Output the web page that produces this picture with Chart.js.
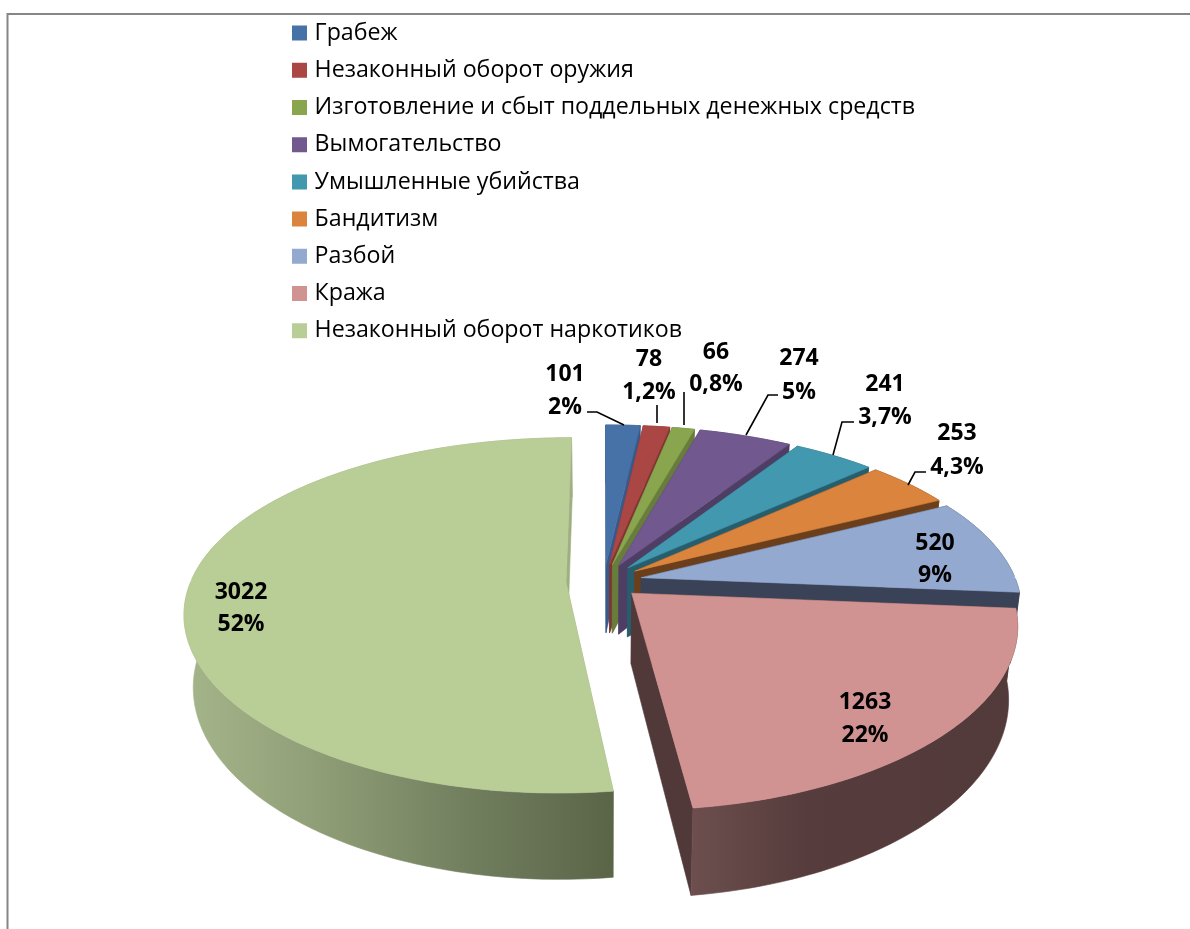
<!DOCTYPE html>
<html lang="ru">
<head>
<meta charset="utf-8">
<title>Pie</title>
<script src="https://cdn.jsdelivr.net/npm/chart.js@4"></script>
<style>
html,body{margin:0;padding:0;background:#fff}
canvas{display:block}
</style>
</head>
<body>
<canvas id="c" width="1190" height="929"></canvas>
<script>
const categories = ['Грабеж','Незаконный оборот оружия','Изготовление и сбыт поддельных денежных средств','Вымогательство','Умышленные убийства','Бандитизм','Разбой','Кража','Незаконный оборот наркотиков'];
const values = [101,78,66,274,241,253,520,1263,3022];
const percentLabels = ['2%','1,2%','0,8%','5%','3,7%','4,3%','9%','22%','52%'];

const topColors = ['#4672A8','#AA4643','#89A54E','#71588F','#4198AF','#DB843D','#93A9CF','#D19392','#B9CD96'];
const wallColors = ['#38598A','#7E3533','#687D3B','#4F3E64','#265E6E','#6B3E1C','#3A4258','#523939','#9EB082'];
const arcWallStops = [null,null,null,null,null,null,null,
  [[0,'#6C4E4E'],[0.35,'#563C3C'],[1,'#533A3A']],
  [[0,'#A5B58A'],[0.3,'#919F78'],[0.67,'#717E5E'],[1,'#5A6547']]];

// label anchors (centre x, first line y, second line y)
const labelPos = [[565,374,407],[649,359,392],[716,352,384],[799,358,392],[885,384,417],[957,433,467],[935,543,575],[865,702,735],[241,592,624]];
// leader lines, in page pixels
const leaders = [
  [[587,412],[597,412],[624,425]],
  [[657,405],[657,423]],
  [[684,392],[684,425]],
  [[778,395],[768,395],[746,435]],
  [[854,422],[842,422],[833,455]],
  [[926,472],[915,472],[908,485]]
];

// projection of the flat pie onto the page
const view = {cx:604, cy:581, ky:0.456, ax:0.00045, ay:0.0005, depth:70, taper:0.022};
const explode = 38, radius = 375;

function project(wx, wy, z){
  const dx = 1/(1 - view.ax*wy), dy = 1/(1 - view.ay*wy);
  const shrink = 1 - view.taper*z;
  return [view.cx + wx*dx*shrink, view.cy + view.ky*wy*dy + z*view.depth*dy];
}
function poly(ctx, pts, fill){
  ctx.beginPath();
  pts.forEach((p,i)=> i? ctx.lineTo(p[0],p[1]) : ctx.moveTo(p[0],p[1]));
  ctx.closePath();
  ctx.fillStyle = fill; ctx.strokeStyle = fill; ctx.lineWidth = 0.6;
  ctx.fill(); ctx.stroke();
}

const pie3d = {
  id:'pie3d',
  afterLayout(chart){
    const l = chart.legend;
    l.left = 282; l.right = 1100; l.top = 7.5; l.bottom = 600;
  },
  beforeDraw(chart){
    const ctx = chart.ctx;
    ctx.save();
    ctx.strokeStyle = '#868686'; ctx.lineWidth = 2;
    ctx.beginPath(); ctx.moveTo(7.5,929); ctx.lineTo(7.5,14); ctx.lineTo(1190,14); ctx.stroke();
    ctx.restore();
  },
  beforeDatasetsDraw(chart){
    const ctx = chart.ctx;
    const arcs = chart.getDatasetMeta(0).data;
    ctx.save();
    arcs.forEach((arc,i)=>{
      const a0 = arc.startAngle, a1 = arc.endAngle, mid = (a0+a1)/2;
      const off = arc.options.offset, R = arc.outerRadius;
      const ox = Math.cos(mid)*off, oy = Math.sin(mid)*off;
      const n = Math.max(4, Math.ceil((a1-a0)/0.02));
      const rim = [], angles = [];
      for(let k=0;k<=n;k++){
        const a = a0 + (a1-a0)*k/n;
        angles.push(a);
        rim.push([ox + R*Math.cos(a), oy + R*Math.sin(a)]);
      }
      const P = (w,z)=>project(w[0],w[1],z);
      const apex = [ox,oy];
      const frontRim = rim.filter((w,k)=>Math.sin(angles[k])>=0);
      const backRim = rim.filter((w,k)=>Math.sin(angles[k])<=0);
      const band = r => [...r.map(w=>P(w,0)),...r.slice().reverse().map(w=>P(w,1))];
      // far part of the outer face, then the cut faces, then the near part
      if(backRim.length>1) poly(ctx,band(backRim),wallColors[i]);
      [rim[0], rim[n]].forEach(e=>{
        poly(ctx,[P(apex,0),P(e,0),P(e,1),P(apex,1)],wallColors[i]);
      });
      if(frontRim.length>1){
        let fill = wallColors[i];
        if(arcWallStops[i]){
          const xs = frontRim.map(w=>P(w,0)[0]);
          const g = ctx.createLinearGradient(Math.min(...xs),0,Math.max(...xs),0);
          arcWallStops[i].forEach(s=>g.addColorStop(s[0],s[1]));
          fill = g;
        }
        poly(ctx,band(frontRim),fill);
      }
      // top face
      poly(ctx,[P(apex,0),...rim.map(w=>P(w,0))],arc.options.backgroundColor);
    });
    ctx.restore();
    return false;
  },
  afterDraw(chart){
    const ctx = chart.ctx;
    ctx.save();
    ctx.strokeStyle = '#000'; ctx.lineWidth = 1.6;
    leaders.forEach(l=>{
      ctx.beginPath();
      l.forEach((p,i)=> i? ctx.lineTo(p[0],p[1]) : ctx.moveTo(p[0],p[1]));
      ctx.stroke();
    });
    ctx.fillStyle = '#000';
    ctx.font = 'bold 23px "Open Sans"';
    ctx.textAlign = 'center'; ctx.textBaseline = 'middle';
    values.forEach((v,i)=>{
      ctx.fillText(String(v), labelPos[i][0], labelPos[i][1]);
      ctx.fillText(percentLabels[i], labelPos[i][0], labelPos[i][2]);
    });
    ctx.restore();
  }
};

new Chart(document.getElementById('c'),{
  type:'pie',
  data:{labels:categories,datasets:[{data:values,backgroundColor:topColors,borderWidth:0,offset:explode}]},
  options:{
    responsive:false,animation:false,events:[],
    radius:radius,
    plugins:{
      tooltip:{enabled:false},
      legend:{
        position:'left',align:'start',
        labels:{usePointStyle:true,pointStyle:'rect',boxWidth:7,boxHeight:15,padding:14,color:'#000',font:{family:'"Open Sans"',size:23.2}}
      }
    }
  },
  plugins:[pie3d]
});
</script>
</body>
</html>
